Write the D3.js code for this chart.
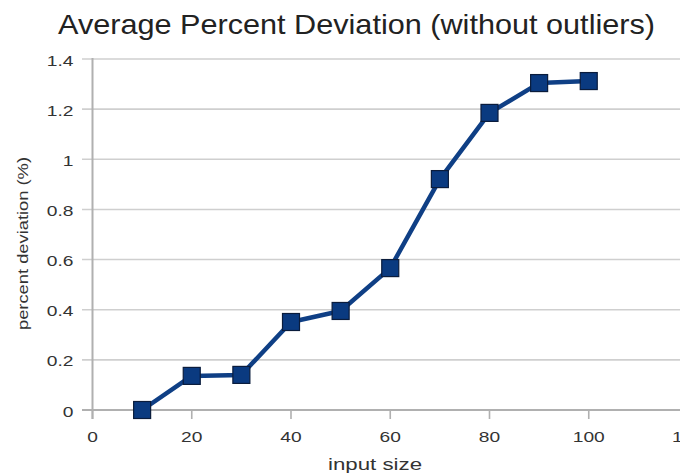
<!DOCTYPE html>
<html>
<head>
<meta charset="utf-8">
<script src="https://cdn.jsdelivr.net/npm/d3@7"></script>
<style>
  html, body { margin: 0; padding: 0; background: #fff; overflow: hidden; }
  svg { display: block; font-family: "Liberation Sans", Arial, sans-serif; }
</style>
</head>
<body>
<svg id="chart" width="680" height="474"></svg>
<script>
const inputSizes = [10, 20, 30, 40, 50, 60, 70, 80, 90, 100];
const deviation = [0.0, 0.136, 0.14, 0.351, 0.395, 0.566, 0.921, 1.185, 1.304, 1.312];
const xTicks = [0, 20, 40, 60, 80, 100, 120];
const yTicks = [0, 0.2, 0.4, 0.6, 0.8, 1, 1.2, 1.4];
const titleText = "Average Percent Deviation (without outliers)";
const xLabel = "input size";
const yLabel = "percent deviation (%)";

const svg = d3.select("#chart");
const x = d3.scaleLinear().domain([0, 120]).range([92.5, 688]);
const y = d3.scaleLinear().domain([0, 1.4]).range([410, 59]);
const stretch = 1.28;

// grid lines
svg.append("g").selectAll("line").data(yTicks).join("line")
  .attr("x1", 82).attr("x2", 688)
  .attr("y1", d => y(d)).attr("y2", d => y(d))
  .attr("stroke", d => d === 0 ? "#b0b0b0" : "#cfcfcf")
  .attr("stroke-width", d => d === 0 ? 2 : 1.6);

// y axis line
svg.append("line")
  .attr("x1", x(0)).attr("x2", x(0))
  .attr("y1", y(1.4) - 1).attr("y2", 419)
  .attr("stroke", "#b0b0b0").attr("stroke-width", 2);

// x tick marks
svg.append("g").selectAll("line").data(xTicks).join("line")
  .attr("x1", d => x(d)).attr("x2", d => x(d))
  .attr("y1", 410).attr("y2", 419)
  .attr("stroke", "#b0b0b0").attr("stroke-width", 1.6);

// y tick labels
svg.append("g").selectAll("text").data(yTicks).join("text")
  .attr("transform", d => `translate(73.5,${y(d) + 6.5}) scale(${stretch},1)`)
  .attr("text-anchor", "end").attr("font-size", 15).attr("fill", "#333")
  .text(d => d3.format("")(d));

// x tick labels
svg.append("g").selectAll("text").data(xTicks).join("text")
  .attr("transform", d => `translate(${x(d)},441.5) scale(${stretch},1)`)
  .attr("text-anchor", "middle").attr("font-size", 15).attr("fill", "#333")
  .text(d => d);

// line
const line = d3.line().x((d, i) => x(inputSizes[i])).y(d => y(d));
svg.append("path").datum(deviation)
  .attr("d", line).attr("fill", "none")
  .attr("stroke", "#0f3f85").attr("stroke-width", 4.5)
  .attr("stroke-linejoin", "round");

// markers
const m = 17;
svg.append("g").selectAll("rect").data(deviation).join("rect")
  .attr("x", (d, i) => x(inputSizes[i]) - m / 2)
  .attr("y", d => y(d) - m / 2)
  .attr("width", m).attr("height", m)
  .attr("fill", "#0a3a80").attr("stroke", "#0a1c3c").attr("stroke-width", 1.2);

// title
svg.append("text").attr("x", 58).attr("y", 33.5)
  .attr("font-size", 28).attr("fill", "#222")
  .attr("textLength", 597).attr("lengthAdjust", "spacingAndGlyphs")
  .text(titleText);

// x label
svg.append("text").attr("x", 328).attr("y", 469.5)
  .attr("font-size", 16).attr("fill", "#333")
  .attr("textLength", 94).attr("lengthAdjust", "spacingAndGlyphs")
  .text(xLabel);

// y label
svg.append("text")
  .attr("transform", "translate(28,330) rotate(-90)")
  .attr("font-size", 14.5).attr("fill", "#333")
  .attr("textLength", 173).attr("lengthAdjust", "spacingAndGlyphs")
  .text(yLabel);
</script>
</body>
</html>
